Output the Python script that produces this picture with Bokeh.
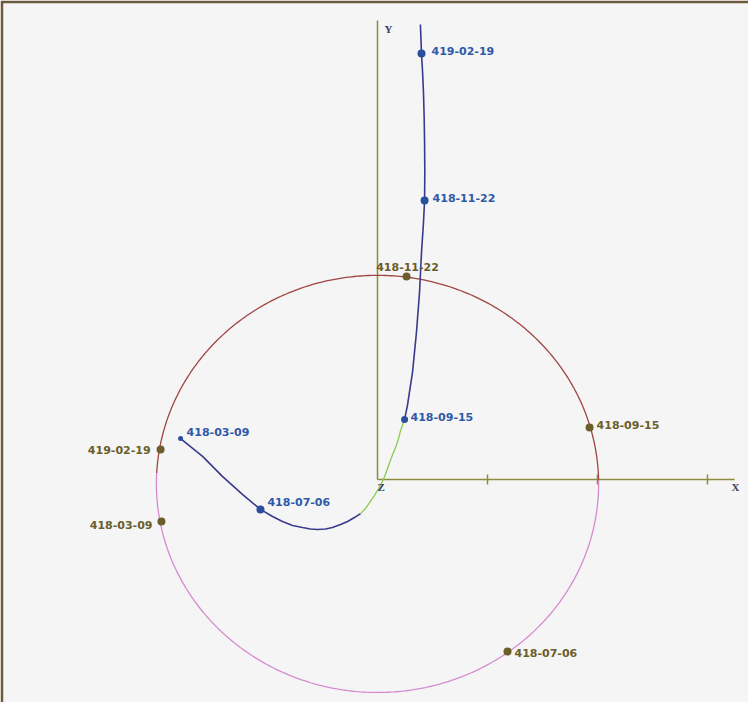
import numpy as np
from bokeh.plotting import figure
from bokeh.models import Range1d, ColumnDataSource
from bokeh.core.properties import value
from bokeh.embed import file_html
from bokeh.resources import INLINE

# ---- data (units: AU, x to the right, y up, origin = Sun) ----
# comet path, first part (above ecliptic, blue)
comet1_x = [-0.895, -0.795, -0.705, -0.614, -0.532, -0.477, -0.432, -0.386, -0.341, -0.305,
            -0.273, -0.236, -0.205, -0.168, -0.136, -0.105, -0.077]
comet1_y = [0.186, 0.105, 0.014, -0.068, -0.136, -0.168, -0.191, -0.209, -0.218, -0.225,
            -0.227, -0.225, -0.218, -0.205, -0.191, -0.173, -0.155]
# comet path, part below the ecliptic (green)
comet2_x = [-0.077, -0.055, -0.036, -0.014, 0.005, 0.027, 0.041, 0.055, 0.068, 0.082, 0.095, 0.105, 0.123]
comet2_y = [-0.155, -0.132, -0.105, -0.073, -0.041, 0.000, 0.036, 0.077, 0.111, 0.145, 0.184, 0.223, 0.273]
# comet path, last part (blue)
comet3_x = [0.123, 0.136, 0.145, 0.159, 0.168, 0.177, 0.191, 0.200, 0.209, 0.214, 0.215, 0.214,
            0.212, 0.209, 0.205, 0.200, 0.195]
comet3_y = [0.273, 0.336, 0.395, 0.486, 0.577, 0.668, 0.850, 1.032, 1.168, 1.268, 1.400, 1.532,
            1.650, 1.759, 1.850, 1.936, 2.068]

# dated positions of the comet
comet_dates = ["418-03-09", "418-07-06", "418-09-15", "418-11-22", "419-02-19"]
comet_pos_x = [-0.895, -0.532, 0.123, 0.214, 0.200]
comet_pos_y = [0.186, -0.136, 0.273, 1.268, 1.936]

# dated positions of the Earth
earth_dates = ["418-03-09", "418-07-06", "418-09-15", "418-11-22", "419-02-19"]
earth_pos_x = [-0.982, 0.591, 0.964, 0.132, -0.986]
earth_pos_y = [-0.191, -0.782, 0.236, 0.923, 0.136]

# Earth orbit (projected ellipse)
orbit_cx, orbit_cy = 0.0, -0.020
orbit_rx, orbit_ry = 1.005, 0.948
orbit_above_deg = (1.0, 177.0)   # part of the orbit drawn in red

# axes
x_axis_end = 1.623
y_axis_end = 2.086
x_ticks = [0.5, 1.0, 1.5]

# ---- layout ----
PPU = 220.0          # pixels per AU
ORIGIN_PX = (385, 487)
W, H = 748, 702
BL, BT = 3, 3
frame_left, frame_top = 8 + BL, 8 + BT
frame_right, frame_bottom = 8 + W, 8 + H

x_range = Range1d((frame_left - ORIGIN_PX[0]) / PPU, (frame_right - ORIGIN_PX[0]) / PPU)
y_range = Range1d((ORIGIN_PX[1] - frame_bottom) / PPU, (ORIGIN_PX[1] - frame_top) / PPU)

p = figure(width=W, height=H, x_range=x_range, y_range=y_range,
           output_backend="svg", toolbar_location=None,
           x_axis_location=None, y_axis_location=None,
           min_border_left=BL, min_border_top=BT, min_border_right=0, min_border_bottom=0,
           border_fill_color="#6b5a3c", background_fill_color="#f5f5f5",
           outline_line_color=None)
p.grid.visible = False

AXIS_COL = "#8c8c40"
# axes
p.segment(x0=[0, 0], y0=[0, 0], x1=[x_axis_end, 0], y1=[0, y_axis_end],
          line_color=AXIS_COL, line_width=1.5)
tl = 5 / PPU
p.segment(x0=x_ticks, y0=[-tl] * 3, x1=x_ticks, y1=[tl] * 3, line_color=AXIS_COL, line_width=1.5)

# orbit
a0, a1 = orbit_above_deg
t_red = np.radians(np.linspace(a0, a1, 240))
t_pink = np.radians(np.linspace(a1, 360 + a0, 240))
p.line(orbit_cx + orbit_rx * np.cos(t_pink), orbit_cy + orbit_ry * np.sin(t_pink),
       line_color="#d58ad0", line_width=1.3)
p.line(orbit_cx + orbit_rx * np.cos(t_red), orbit_cy + orbit_ry * np.sin(t_red),
       line_color="#a04444", line_width=1.3)

# comet path
p.line(comet1_x, comet1_y, line_color="#3a3a8c", line_width=1.6)
p.line(comet2_x, comet2_y, line_color="#88cc55", line_width=1.3)
p.line(comet3_x, comet3_y, line_color="#3a3a8c", line_width=1.6)

# axis letters
p.text(x=[x_axis_end, 0, 0], y=[0, y_axis_end, 0], text=["X", "Y", "Z"],
       x_offset=[-3, 7, 0], y_offset=[7, 8, 7],
       text_font=value("Liberation Serif"), text_font_style="bold", text_font_size="11px",
       text_color="#3a4060", text_align="left", text_baseline="middle")

# comet dots + labels
BLUE = "#2f5aa8"
comet_src = ColumnDataSource(dict(
    x=comet_pos_x, y=comet_pos_y, t=comet_dates,
    size=[5, 8, 7, 8, 8],
    xo=[6, 7, 6, 8, 10], yo=[-7, -7, -2, -3, -3]))
p.scatter("x", "y", size="size", source=comet_src, fill_color="#2a4f9c", line_color=None)
p.text("x", "y", text="t", x_offset="xo", y_offset="yo", source=comet_src,
       text_font=value("DejaVu Sans"), text_font_style="bold", text_font_size="11px",
       text_color=BLUE, text_align="left", text_baseline="middle")

# earth dots + labels
OLIVE = "#6b5e2a"
earth_src = ColumnDataSource(dict(
    x=earth_pos_x, y=earth_pos_y, t=earth_dates,
    xo=[-9, 7, 7, 1, -10], yo=[3, 1, -3, -9, 0],
    al=["right", "left", "left", "center", "right"]))
p.scatter("x", "y", size=8, source=earth_src, fill_color=OLIVE, line_color=None)
p.text("x", "y", text="t", x_offset="xo", y_offset="yo", text_align="al", source=earth_src,
       text_font=value("DejaVu Sans"), text_font_style="bold", text_font_size="11px",
       text_color=OLIVE, text_baseline="middle")

open("out.html", "w").write(file_html(p, INLINE))
